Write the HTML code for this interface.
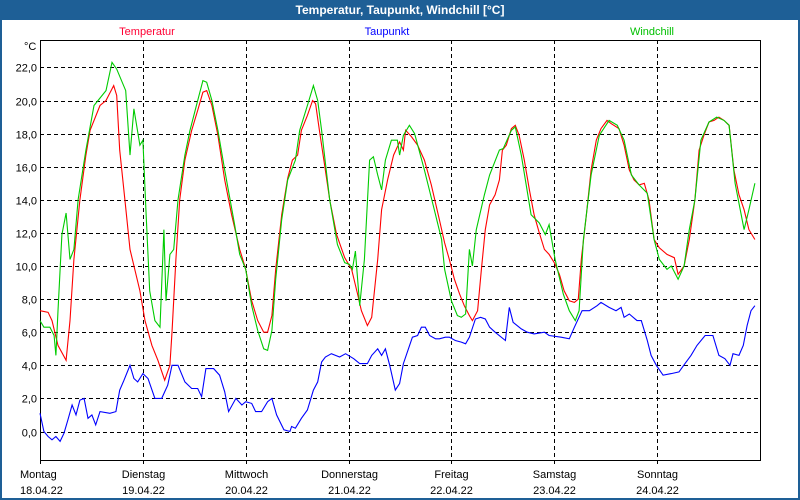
<!DOCTYPE html>
<html><head><meta charset="utf-8"><style>
body{margin:0;width:800px;height:500px;overflow:hidden;background:#fff;font-family:"Liberation Sans",sans-serif}
#win{position:absolute;left:0;top:0;width:796px;height:498px;border:2px solid #1e5f96;border-top:none}
#title{position:absolute;left:0;top:0;width:800px;height:20px;background:#1e5f96;color:#fff;font-weight:bold;font-size:12px;text-align:center;line-height:20px}
</style></head><body>
<div id="win"></div>
<div id="title">Temperatur, Taupunkt, Windchill [°C]</div>
<svg id="c" width="800" height="500" style="position:absolute;left:0;top:0"></svg>
<script>
const yTicks=[0,2,4,6,8,10,12,14,16,18,20,22];
const dayNames=["Montag","Dienstag","Mittwoch","Donnerstag","Freitag","Samstag","Sonntag"];
const dayDates=["18.04.22","19.04.22","20.04.22","21.04.22","22.04.22","23.04.22","24.04.22"];
const tempT=[0,1.9,2.8,4.2,6.1,7.0,7.9,9.3,10.7,11.7,14.0,15.4,16.8,17.2,17.9,18.6,19.8,21.0,23.3,24.5,26.1,27.5,29.1,30.3,30.8,31.7,32.6,33.8,35.4,36.8,38.0,38.9,40.1,41.5,43.1,44.7,46.6,48.0,49.4,50.8,52.2,53.1,54.1,55.0,56.4,57.8,58.9,60.1,61.0,62.4,63.6,64.3,65.2,66.4,67.6,69.2,71.1,72.7,74.1,75.0,76.4,77.4,78.8,79.7,81.1,82.5,83.9,84.8,85.3,86.7,88.1,89.7,91.3,93.2,94.4,95.5,96.7,97.9,99.0,100.2,100.9,102.1,103.0,103.9,104.9,106.2,107.2,107.9,108.8,110.0,110.9,111.8,113.0,114.2,115.3,116.5,117.7,118.8,120.0,121.2,122.3,123.5,124.7,125.6,126.3,127.5,128.6,129.8,130.9,132.3,133.3,135.1,136.3,137.5,138.6,139.8,141.0,142.1,143.3,144.5,146.3,148.0,148.9,150.3,151.5,152.8,153.8,154.9,156.1,157.3,158.4,159.6,160.8,161.9,163.1,164.3,165.4,166.8];
const tempV=[7.3,7.2,6.7,5.2,4.3,6.7,10.4,14,16.7,18.2,19.7,20,20.7,20.9,20.3,17,14,11,8.5,6.7,5.2,4.3,3.1,4,6,10.4,14,16.4,18.2,19.4,20.5,20.6,19.7,17.9,15.2,13.1,11,9.8,7.9,6.7,6,6,7,9.8,13.1,15.3,16.4,16.7,18.2,19.1,20,19.8,18.2,16.1,14,11.9,10.5,9.8,8.3,7.3,6.4,6.9,10.4,13.4,15.2,16.7,17.5,17,18.2,17.8,17.3,16.4,14.9,12.8,11.4,10.4,9.2,8.3,7.6,7,6.7,7.3,9.8,12.2,13.7,14.3,15.2,17,17.3,18.3,18.5,17.9,16.4,14.6,13.1,12,11,10.7,10.2,9.5,8.5,7.9,7.8,8,10.4,13.1,15.8,17.6,18.3,18.8,18.6,18.3,17.3,15.8,15.2,14.9,15,14,11.6,11.1,10.7,10.5,9.5,10,11.6,14,17,17.9,18.7,18.8,19,18.8,18.5,15.8,14.3,13.4,12.2,11.6];
const windT=[0,0.9,2.3,3.3,3.7,4.2,5.1,6.1,7.0,7.9,8.9,10.7,12.6,15.4,16.8,17.9,20.0,21.0,21.9,23.3,24.0,24.7,25.6,26.8,28.0,28.9,29.4,30.3,31.2,32.2,33.8,35.0,36.8,38.0,38.9,40.1,41.5,43.1,45.4,46.6,48.0,49.4,50.8,52.2,53.1,54.1,55.0,56.4,57.8,59.6,60.6,62.4,63.8,64.8,65.7,67.6,69.4,71.1,72.2,72.9,73.6,74.6,75.7,76.9,77.8,78.8,79.7,80.6,82.0,83.4,83.9,84.8,86.2,87.4,89.7,92.0,93.7,94.4,96.0,97.4,98.3,99.3,100.2,100.9,101.8,103.7,104.9,107.2,108.1,110.0,110.9,112.3,114.6,116.5,117.9,118.8,120.2,122.1,123.5,124.9,125.8,126.8,128.6,130.5,132.8,134.7,136.3,138.0,139.8,141.7,143.3,144.5,146.3,147.3,148.9,150.3,151.5,152.8,154.2,156.1,157.9,159.6,160.8,162.2,164.3,165.4,166.8];
const windV=[6.7,6.3,6.3,5.8,4.6,7.3,11.9,13.2,10.4,11,14,17,19.7,20.6,22.3,21.9,20.6,16.7,19.5,17.3,17.6,13.4,8.5,6.7,6.3,12.2,7.9,10.7,11,14,16.7,18.2,20,21.2,21.1,20,18.2,15.8,12.5,10.7,9.8,7.6,6.1,5,4.9,6.1,9.2,12.8,15.2,16.4,18.2,19.7,20.9,20,18.2,14,11.3,10.2,10.1,9.8,10.9,7.6,10.4,16.4,16.6,15.5,14.6,16.4,17.6,17.6,16.7,17.9,18.5,18,15.8,13.4,11.6,9.8,7.9,7,6.9,7.1,11,10,12.2,14.3,15.5,17,17.1,18.2,18.4,16.7,13.1,12.6,11.9,12.5,10.4,8.3,7.3,6.7,7.3,11.6,15.5,17.9,18.8,18.5,17.6,15.5,14.9,14.4,11.6,10.4,9.8,10,9.2,10,12.2,14,17.6,18.7,19,18.8,18.5,15,12.2,13.4,15];
const dewT=[0,0.9,1.9,2.8,3.7,4.7,5.6,6.5,7.5,8.4,9.3,10.3,11.2,12.1,13.0,14.0,16.3,17.7,18.6,19.6,21.0,21.9,22.8,24.0,25.2,26.8,28.4,29.8,30.8,32.2,33.8,35.4,36.8,37.7,38.7,40.5,41.9,43.1,44.0,45.7,47.1,48.0,49.4,50.3,51.7,53.1,54.1,55.2,56.9,58.3,58.7,59.6,61.0,62.4,63.8,64.8,65.7,66.6,68.0,69.9,71.3,73.2,74.6,76.4,77.4,78.8,79.7,80.6,81.6,82.9,83.9,84.8,86.9,88.1,89.0,89.9,90.9,92.3,93.2,94.6,95.5,96.9,98.3,99.3,100.2,101.6,102.8,103.9,104.9,106.2,108.6,109.5,110.4,112.3,113.7,115.3,117.7,118.8,121.6,123.5,124.7,126.5,128.2,130.0,130.9,132.8,134.4,135.6,136.3,137.5,139.3,140.3,141.7,142.6,143.8,145.4,147.3,149.1,150.5,151.9,153.3,155.2,157.0,158.4,159.8,161.0,161.7,163.1,164.1,165.0,165.9,166.8];
const dewV=[1.1,0,-0.3,-0.5,-0.3,-0.6,-0.1,0.7,1.6,1,1.9,2,0.8,1,0.4,1.2,1.1,1.2,2.5,3.1,4,3.2,3,3.5,3.2,2,2,2.8,4,4,3,2.6,2.6,2.1,3.8,3.8,3.4,2.4,1.2,2,1.6,1.8,1.7,1.2,1.2,1.8,2,1,0.1,0,0.3,0.2,0.8,1.3,2.5,3,4.2,4.5,4.7,4.5,4.7,4.4,4.1,4.1,4.6,5,4.6,5,4,2.5,2.9,4.1,5.7,5.8,6.3,6.3,5.8,5.6,5.6,5.7,5.7,5.5,5.4,5.3,5.7,6.8,6.9,6.8,6.3,6,5.5,7.5,6.6,6.2,6,5.9,6,5.8,5.7,5.6,6.3,7.3,7.3,7.6,7.8,7.5,7.3,7.5,6.9,7.1,6.7,6.7,5.5,4.6,4,3.4,3.5,3.6,4.1,4.6,5.2,5.8,5.8,4.6,4.4,4,4.7,4.6,5.2,6.4,7.3,7.6];

const L=40,R=760,T=40,B=460,H0=168;
const xs=h=>L+h*(R-L)/H0;
const ys=v=>431.5-v*16.55;
const svg=document.getElementById('c');
const NS='http://www.w3.org/2000/svg';
function mk(tag,attrs,parent){const e=document.createElementNS(NS,tag);for(const k in attrs)e.setAttribute(k,attrs[k]);(parent||svg).appendChild(e);return e;}

const grid=mk('g',{});


yTicks.forEach(v=>{
  const y=Math.round(ys(v))+0.5;
  const ln=mk('line',{x1:L,x2:R,y1:y,y2:y,stroke:'#000','stroke-dasharray':'4,3','stroke-width':1},grid);
  
  
  const t=mk('text',{x:37,y:y+4,'text-anchor':'end','font-size':11,fill:'#000'});
  t.textContent=v.toFixed(1).replace('.',',');
  
  
});
dayNames.forEach((d,i)=>{
  const x=Math.round(xs(i*24))+0.5;
  if(i>0){
    const ln=mk('line',{x1:x,x2:x,y1:T,y2:B,stroke:'#000','stroke-dasharray':'4,3'},grid);
    
    
  }
  const tk=mk('line',{x1:x,x2:x,y1:B,y2:B+4,stroke:'#000'});
  
  
  const t1=mk('text',{x:i==0?20:x,y:478,'text-anchor':i==0?'start':'middle','font-size':11});
  t1.textContent=d;
  
  
  const t2=mk('text',{x:i==0?20:x,y:494,'text-anchor':i==0?'start':'middle','font-size':11});
  t2.textContent=dayDates[i];
  
  
});
const frame=mk('path',{d:`M${L+0.5} ${T}V${B+0.5}H${R+0.5}V${T}`,fill:'none',stroke:'#000'});


const topBorder=mk('line',{x1:L,x2:R,y1:T+0.5,y2:T+0.5,stroke:'#000'});


const unit=mk('text',{x:24,y:50,'font-size':11});
unit.textContent='°C';



function series(T_,V_,color,name){
  const n=Math.min(T_.length,V_.length);
  const pts=[];
  for(let i=0;i<n;i++)pts.push(xs(T_[i]).toFixed(1)+','+ys(V_[i]).toFixed(1));
  const p=mk('polyline',{points:pts.join(' '),fill:'none',stroke:color,'stroke-width':1.1});
  
  
}
series(dewT,dewV,'#0000ff','dewpoint-line');
series(tempT,tempV,'#ff0000','temperature-line');
series(windT,windV,'#00cc00','windchill-line');

[['Temperatur',147,'#ff0033','legend-temperatur'],['Taupunkt',387,'#0000ff','legend-taupunkt'],['Windchill',652,'#00c000','legend-windchill']].forEach(([s,x,c,n])=>{
  const t=mk('text',{x:x,y:35,'text-anchor':'middle','font-size':11,fill:c});
  t.textContent=s;
  
  
});
</script>
</body></html>
